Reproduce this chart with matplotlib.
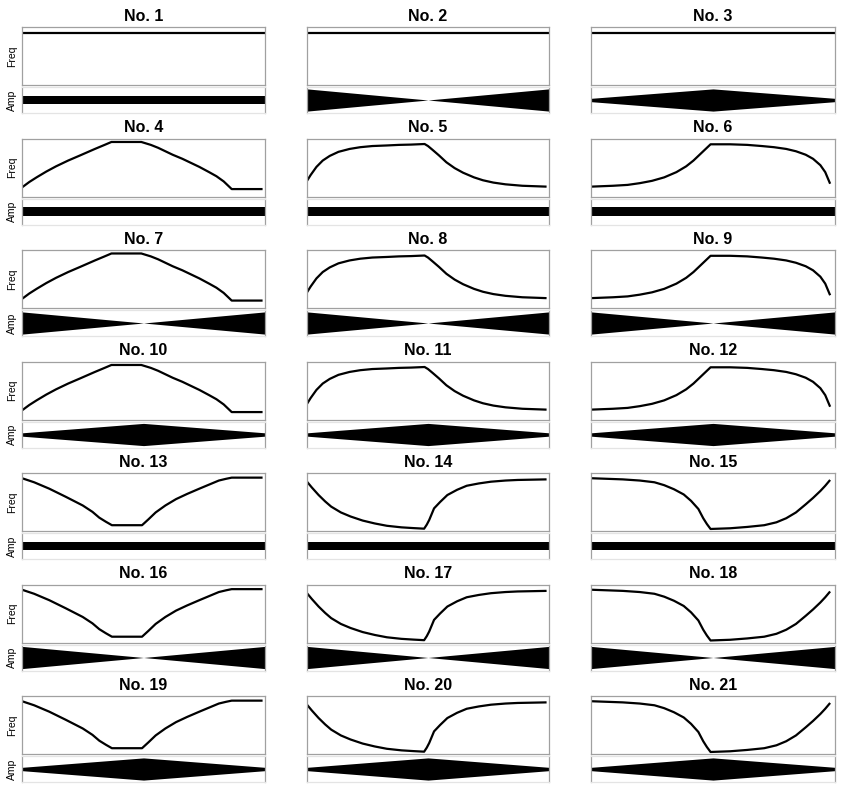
import matplotlib
matplotlib.use("Agg")
import matplotlib.pyplot as plt

# ---------------- data ----------------
# frequency contours: x (fraction of duration), y (fraction of range)
const_x = [0.0, 1.0]
const_y = [0.90, 0.90]

arch_x = [0.0, 0.03, 0.06, 0.10, 0.14, 0.19, 0.24, 0.30, 0.34, 0.368, 0.491, 0.53, 0.56, 0.59,
          0.62, 0.66, 0.70, 0.73, 0.77, 0.80, 0.83, 0.863, 0.99]
arch_y = [0.157, 0.25, 0.33, 0.43, 0.52, 0.62, 0.71, 0.82, 0.89, 0.94, 0.94, 0.89, 0.84, 0.78,
          0.72, 0.65, 0.57, 0.51, 0.42, 0.35, 0.26, 0.128, 0.128]

rise_fall_x = [0.0, 0.015, 0.039, 0.065, 0.094, 0.13, 0.176, 0.22, 0.27, 0.33, 0.38, 0.43, 0.486,
               0.50, 0.52, 0.545, 0.576, 0.61, 0.645, 0.69, 0.727, 0.77, 0.82, 0.89, 0.99]
rise_fall_y = [0.27, 0.37, 0.51, 0.62, 0.70, 0.77, 0.82, 0.85, 0.87, 0.88, 0.89, 0.895, 0.905,
               0.87, 0.80, 0.71, 0.59, 0.49, 0.41, 0.33, 0.28, 0.24, 0.21, 0.185, 0.17]

slow_rise_x = [0.0, 0.09, 0.15, 0.20, 0.25, 0.30, 0.35, 0.39, 0.42, 0.44, 0.465, 0.49, 0.57, 0.64,
               0.70, 0.75, 0.80, 0.84, 0.88, 0.91, 0.94, 0.96, 0.98]
slow_rise_y = [0.17, 0.185, 0.20, 0.23, 0.27, 0.33, 0.42, 0.52, 0.62, 0.70, 0.80, 0.90, 0.90, 0.89,
               0.87, 0.85, 0.82, 0.78, 0.72, 0.65, 0.54, 0.42, 0.22]

valley_x = [0.0, 0.05, 0.112, 0.18, 0.25, 0.29, 0.318, 0.345, 0.37, 0.494, 0.52, 0.55, 0.59, 0.634,
            0.68, 0.73, 0.77, 0.81, 0.84, 0.863, 0.99]
valley_y = [0.91, 0.84, 0.73, 0.59, 0.44, 0.33, 0.23, 0.16, 0.10, 0.10, 0.20, 0.32, 0.44, 0.55,
            0.64, 0.73, 0.80, 0.87, 0.90, 0.92, 0.92]

fall_rise_x = [0.0, 0.02, 0.048, 0.075, 0.10, 0.14, 0.18, 0.23, 0.28, 0.33, 0.39, 0.44, 0.484,
               0.495, 0.505, 0.525, 0.55, 0.58, 0.62, 0.66, 0.71, 0.76, 0.82, 0.87, 0.93, 0.99]
fall_rise_y = [0.85, 0.75, 0.62, 0.51, 0.42, 0.32, 0.25, 0.18, 0.13, 0.09, 0.063, 0.05, 0.04,
               0.11, 0.19, 0.39, 0.50, 0.62, 0.71, 0.78, 0.82, 0.85, 0.87, 0.88, 0.885, 0.89]

slow_fall_x = [0.0, 0.13, 0.20, 0.26, 0.30, 0.34, 0.38, 0.41, 0.44, 0.46, 0.475, 0.49, 0.57, 0.64,
               0.71, 0.76, 0.80, 0.84, 0.88, 0.91, 0.94, 0.96, 0.98]
slow_fall_y = [0.91, 0.89, 0.87, 0.84, 0.79, 0.72, 0.63, 0.52, 0.38, 0.22, 0.12, 0.035, 0.047, 0.07,
               0.10, 0.15, 0.22, 0.32, 0.46, 0.57, 0.69, 0.78, 0.88]

# amplitude envelopes: x, half-width
amp_x = [0.0, 0.5, 1.0]
amp_flat = [0.40, 0.40, 0.40]
amp_v = [1.0, 0.0, 1.0]
amp_diamond = [0.15, 1.0, 0.15]

freq_shapes = [(const_x, const_y)] * 3 + \
    [(arch_x, arch_y), (rise_fall_x, rise_fall_y), (slow_rise_x, slow_rise_y)] * 3 + \
    [(valley_x, valley_y), (fall_rise_x, fall_rise_y), (slow_fall_x, slow_fall_y)] * 3
amp_shapes = [amp_flat, amp_v, amp_diamond] + \
    [amp_flat] * 3 + [amp_v] * 3 + [amp_diamond] * 3 + \
    [amp_flat] * 3 + [amp_v] * 3 + [amp_diamond] * 3
titles = [f"No. {i}" for i in range(1, 22)]

# ---------------- layout ----------------
W, H = 844, 791
fig = plt.figure(figsize=(W / 100, H / 100), dpi=100)

col_left = [22, 307, 591]
col_width = [243, 242, 244]
row_top0 = 27
row_step = 111.5
freq_h = 58
amp_gap = 2
amp_h = 26

spine_col = "#a0a0a0"
light_col = "#e4e4e4"
title_font = dict(family=["Liberation Sans", "DejaVu Sans"], weight="bold", size=11.5)
label_font = dict(family=["Liberation Sans", "DejaVu Sans"], size=7.5)


def fig_rect(left, top, w, h):
    return [left / W, 1 - (top + h) / H, w / W, h / H]


for i in range(21):
    r, c = divmod(i, 3)
    left = col_left[c]
    w = col_width[c]
    top = row_top0 + r * row_step

    axf = fig.add_axes(fig_rect(left, top, w, freq_h))
    fx, fy = freq_shapes[i]
    axf.plot(fx, fy, color="black", lw=1.6, solid_capstyle="butt", solid_joinstyle="round")
    axf.set_xlim(0, 1)
    axf.set_ylim(0, 1)
    axf.set_xticks([])
    axf.set_yticks([])
    for s in axf.spines.values():
        s.set_color(spine_col)
        s.set_linewidth(0.9)

    axa = fig.add_axes(fig_rect(left, top + freq_h + amp_gap, w, amp_h))
    a = amp_shapes[i]
    axa.fill_between(amp_x, [-v for v in a], a, color="black", lw=0)
    axa.set_xlim(0, 1)
    axa.set_ylim(-1.17, 1.17)
    axa.set_xticks([])
    axa.set_yticks([])
    for name, s in axa.spines.items():
        if name in ("left", "right"):
            s.set_color(spine_col)
        else:
            s.set_color(light_col)
        s.set_linewidth(0.9)

    fig.text((left + w / 2) / W, 1 - (top - 10.5) / H, titles[i],
             ha="center", va="center", **title_font)

    if c == 0:
        fig.text(12 / W, 1 - (top + freq_h / 2) / H, "Freq", rotation=90,
                 ha="center", va="center", **label_font)
        fig.text(12 / W, 1 - (top + freq_h + amp_gap + amp_h / 2) / H, "Amp",
                 rotation=90, ha="center", va="center", **label_font)

fig.savefig("out.png", dpi=100)
